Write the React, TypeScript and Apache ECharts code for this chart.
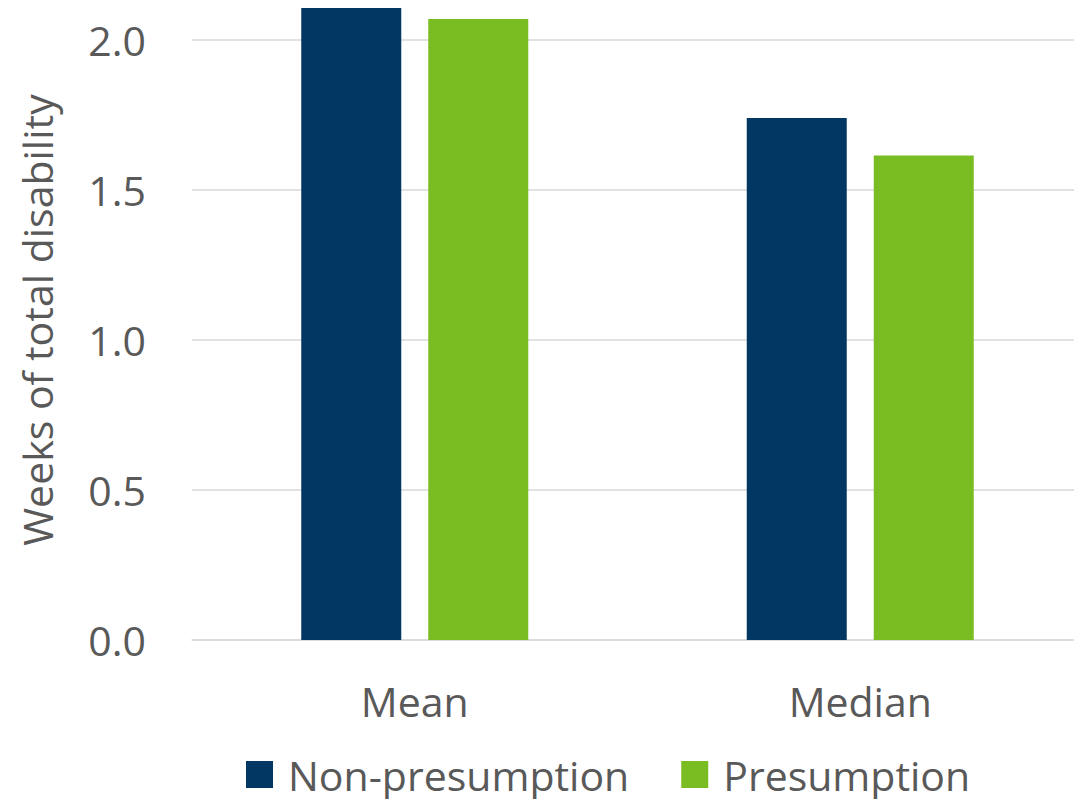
import React, { useEffect, useRef } from "react";
import * as echarts from "echarts";

const categories = ["Mean", "Median"];
const nonPresumption = [2.107, 1.74];
const presumption = [2.07, 1.615];
const seriesNames = ["Non-presumption", "Presumption"];
const yAxisTitle = "Weeks of total disability";

const FONT = "'Open Sans', sans-serif";
const TEXT = "#595959";

export default function App() {
  const ref = useRef<HTMLDivElement>(null);
  useEffect(() => {
    if (!ref.current) return;
    const chart = echarts.init(ref.current, undefined, { renderer: "svg" });
    chart.setOption({
      animation: false,
      textStyle: { fontFamily: FONT },
      grid: { left: 192, top: 0, right: 0, height: 640 },
      legend: {
        left: 246,
        top: 754,
        padding: 0,
        itemWidth: 27,
        itemHeight: 27,
        itemGap: 52,
        icon: "rect",
        textStyle: {
          color: TEXT,
          fontSize: 41,
          lineHeight: 30,
          fontFamily: FONT,
          padding: [0, 0, 0, 10],
        },
        data: seriesNames,
      },
      xAxis: {
        type: "category",
        data: categories,
        axisLine: { lineStyle: { color: "#d9d9d9", width: 1.5 } },
        axisTick: { show: false },
        axisLabel: { color: TEXT, fontSize: 41, fontFamily: FONT, margin: 40 },
      },
      yAxis: {
        type: "value",
        min: 0,
        max: 2.1333,
        interval: 0.5,
        name: yAxisTitle,
        nameLocation: "middle",
        nameGap: 135,
        nameTextStyle: { color: TEXT, fontSize: 41, fontFamily: FONT },
        axisLine: { show: false },
        axisTick: { show: false },
        axisLabel: {
          color: TEXT,
          fontSize: 41,
          fontFamily: FONT,
          margin: 46,
          showMaxLabel: false,
          formatter: (v: number) => v.toFixed(1),
        },
        splitLine: { showMaxLine: false, lineStyle: { color: "#d9d9d9", width: 1.5 } },
      },
      series: [
        {
          name: seriesNames[0],
          type: "bar",
          data: nonPresumption,
          barWidth: 100,
          barGap: "27%",
          itemStyle: { color: "#023764" },
        },
        {
          name: seriesNames[1],
          type: "bar",
          data: presumption,
          barWidth: 100,
          itemStyle: { color: "#7abd22" },
        },
      ],
    });
    return () => chart.dispose();
  }, []);
  return (
    <div
      style={{
        position: "absolute",
        left: 0,
        top: 0,
        width: 1074,
        height: 799,
        overflow: "hidden",
        background: "#fff",
      }}
    >
      <div ref={ref} style={{ width: 1083, height: 799 }} />
    </div>
  );
}
